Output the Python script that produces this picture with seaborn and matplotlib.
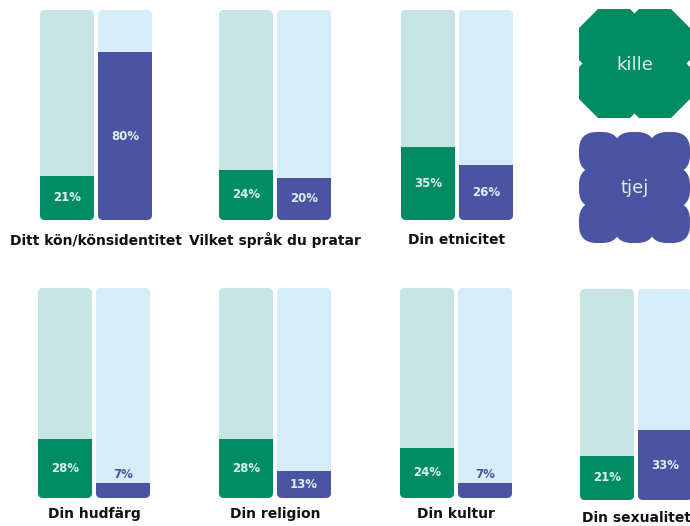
import numpy as np
import pandas as pd
import matplotlib
matplotlib.use("Agg")
import matplotlib.pyplot as plt
import seaborn as sns
from matplotlib.patches import FancyBboxPatch, Polygon, Rectangle

# ---- data ----
categories = ["Ditt kön/könsidentitet", "Vilket språk du pratar", "Din etnicitet",
              "Din hudfärg", "Din religion", "Din kultur", "Din sexualitet"]
kille = [21, 24, 35, 28, 28, 24, 21]
tjej = [80, 20, 26, 7, 13, 7, 33]
groups = ["kille", "tjej"]

# ---- style ----
sns.set_theme(style="white")
plt.rcParams['font.family'] = ['DejaVu Sans']
GREEN = "#008c62"
BLUE = "#4b54a2"
GREEN_BG = "#c6e5e4"
BLUE_BG = "#d5ecf9"
LABEL = "#dcefef"

W, H = 690, 526
fig = plt.figure(figsize=(W / 100, H / 100), dpi=100)
fig.patch.set_facecolor("white")


def px_axes(x0, y0, x1, y1):
    return fig.add_axes([x0 / W, 1 - y1 / H, (x1 - x0) / W, (y1 - y0) / H])


# panel layout (left px, top px, bottom px, title y px)
layout = [(40, 10, 220, 240), (219, 10, 220, 240), (401, 10, 220, 240),
          (38, 288, 498, 514), (219, 288, 498, 514), (400, 288, 498, 514),
          (580, 289, 500, 518)]

PITCH = 58.0
BW = 54 / PITCH
for i, cat in enumerate(categories):
    x0, y0, y1, ty = layout[i]
    span = 1 + BW
    ax = px_axes(x0, y0, x0 + span * PITCH, y1)
    df_bg = pd.DataFrame({"grupp": groups, "v": [100, 100]})
    df_fg = pd.DataFrame({"grupp": groups, "v": [kille[i], tjej[i]]})
    sns.barplot(data=df_bg, x="grupp", y="v", hue="grupp", palette=[GREEN_BG, BLUE_BG],
                width=BW, legend=False, ax=ax, saturation=1)
    sns.barplot(data=df_fg, x="grupp", y="v", hue="grupp", palette=[GREEN, BLUE],
                width=BW, legend=False, ax=ax, saturation=1)
    ax.set_xlim(-BW / 2, 1 + BW / 2)
    ax.set_ylim(0, 100)
    ax.axis("off")
    px_h = y1 - y0
    aspect = (100 / px_h) / (1 / PITCH)
    r = 5 / PITCH
    patches = list(ax.patches)
    bg, fg = patches[:2], patches[2:4]
    for b, f, fgc in zip(bg, fg, [GREEN, BLUE]):
        fb = FancyBboxPatch((b.get_x(), b.get_y()), b.get_width(), b.get_height(),
                            boxstyle=f"round,pad=0,rounding_size={r}",
                            mutation_aspect=aspect, facecolor=b.get_facecolor(),
                            edgecolor="none", zorder=0.8)
        ax.add_patch(fb)
        b.set_visible(False)
        f.set_clip_path(fb)
        f.set_edgecolor("none")
        f.set_zorder(1)
        val = f.get_height()
        cx = f.get_x() + f.get_width() / 2
        txt = f"{val:.0f}%"
        if val >= 10:
            ax.text(cx, val / 2, txt, ha="center", va="center", color=LABEL,
                    fontsize=8.5, fontweight="bold", zorder=3)
        else:
            ax.text(cx, val + 1.2, txt, ha="center", va="bottom", color=fgc,
                    fontsize=8.5, fontweight="bold", zorder=3)
    fig.text((x0 + span * PITCH / 2) / W, 1 - ty / H, cat, ha="center", va="center",
             fontsize=10, fontweight="bold", color="#111111")

# ---- legend blobs ----
lax = px_axes(570, 0, 690, 256)
lax.set_xlim(570, 690)
lax.set_ylim(256, 0)
lax.axis("off")


def octagon(cx, cy, w, c):
    h = w / 2
    pts = [(cx - h + c, cy - h), (cx + h - c, cy - h), (cx + h, cy - h + c), (cx + h, cy + h - c),
           (cx + h - c, cy + h), (cx - h + c, cy + h), (cx - h, cy + h - c), (cx - h, cy - h + c)]
    return Polygon(pts, closed=True)


# green: four overlapping cut-corner squares
gx0, gx1, gy0, gy1 = 579, 690, 9, 118
w, c = 70, 19
for cx in (gx0 + w / 2, gx1 - w / 2):
    for cy in (gy0 + w / 2, gy1 - w / 2):
        p = octagon(cx, cy, w, c)
        p.set_facecolor(GREEN)
        p.set_edgecolor("none")
        lax.add_patch(p)
lax.add_patch(Rectangle((gx0 + 20, gy0 + 20), gx1 - gx0 - 40, gy1 - gy0 - 40,
                        facecolor=GREEN, edgecolor="none"))
lax.text(635, 65, "kille", ha="center", va="center", fontsize=13, color=LABEL)

# blue: 3x3 overlapping rounded squares
bx0, by0, size = 579, 132, 111
a = 41
s = (size - a) / 2
for ix in range(3):
    for iy in range(3):
        lax.add_patch(FancyBboxPatch((bx0 + ix * s, by0 + iy * s), a, a,
                                     boxstyle="round,pad=0,rounding_size=18",
                                     facecolor=BLUE, edgecolor="none"))
lax.add_patch(Rectangle((bx0 + 18, by0 + 18), size - 36, size - 36, facecolor=BLUE, edgecolor="none"))
lax.text(635, 188, "tjej", ha="center", va="center", fontsize=13, color=LABEL)

fig.savefig("out.png", dpi=100)
